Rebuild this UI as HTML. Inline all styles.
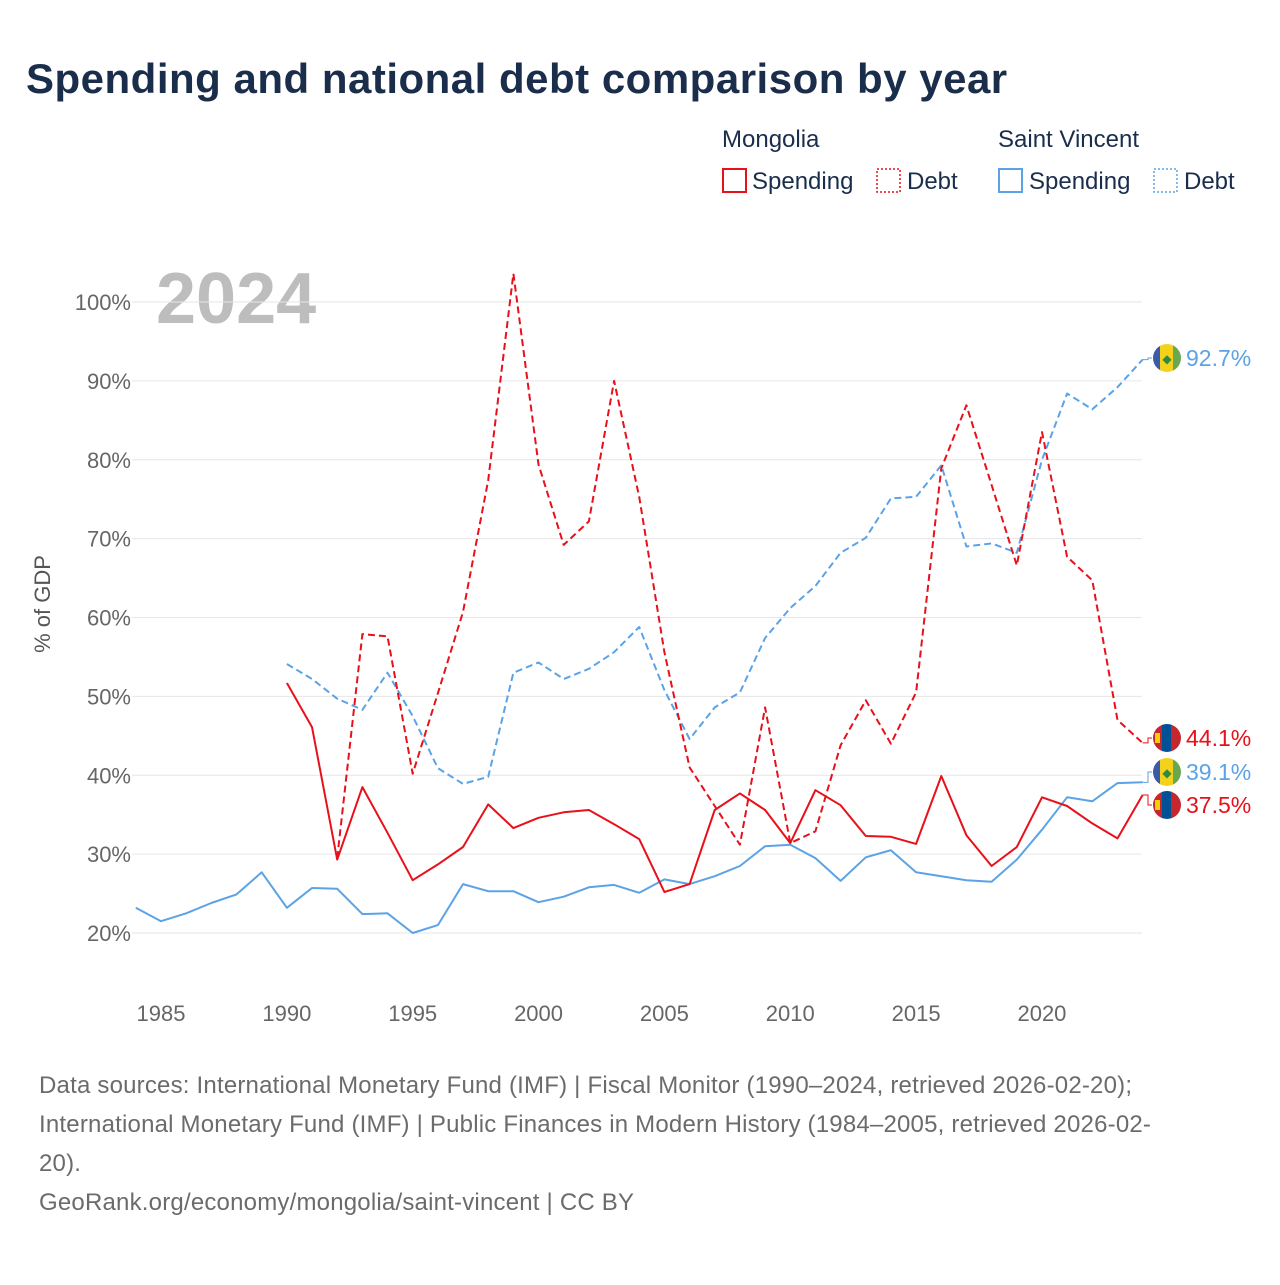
<!DOCTYPE html>
<html><head><meta charset="utf-8">
<style>
body{margin:0;background:#fff;font-family:"Liberation Sans",sans-serif;}
svg text{font-family:"Liberation Sans",sans-serif;}
</style></head>
<body>
<svg id="chart" width="1280" height="1280" xmlns="http://www.w3.org/2000/svg">
<text x="26" y="93" font-size="42" font-weight="bold" fill="#1a2e4c" letter-spacing="0.5">Spending and national debt comparison by year</text>
<g font-size="24" fill="#1a2e4c">
<text x="722" y="147">Mongolia</text>
<rect x="723" y="169" width="23" height="23" fill="none" stroke="#e8101a" stroke-width="2"/>
<text x="752" y="189">Spending</text>
<rect x="877" y="169" width="23" height="23" fill="none" stroke="#e8101a" stroke-width="1.5" stroke-dasharray="2,2"/>
<text x="907" y="189">Debt</text>
<text x="998" y="147">Saint Vincent</text>
<rect x="999" y="169" width="23" height="23" fill="none" stroke="#5ba3e6" stroke-width="2"/>
<text x="1029" y="189">Spending</text>
<rect x="1154" y="169" width="23" height="23" fill="none" stroke="#5ba3e6" stroke-width="1.5" stroke-dasharray="2,2"/>
<text x="1184" y="189">Debt</text>
</g>
<text x="156" y="323" font-size="72" font-weight="bold" fill="#bdbdbd">2024</text>
<text transform="translate(50,604) rotate(-90)" text-anchor="middle" font-size="22" fill="#555">% of GDP</text>
<g id="grid"></g><g id="series"></g><g id="labels"></g>
<g font-size="24" fill="#6b6b6b" letter-spacing="0.2">
<text x="39" y="1093">Data sources: International Monetary Fund (IMF) | Fiscal Monitor (1990–2024, retrieved 2026-02-20);</text>
<text x="39" y="1132">International Monetary Fund (IMF) | Public Finances in Modern History (1984–2005, retrieved 2026-02-</text>
<text x="39" y="1171">20).</text>
<text x="39" y="1210">GeoRank.org/economy/mongolia/saint-vincent | CC BY</text>
</g>
</svg>
<script>
const yTicks=[20,30,40,50,60,70,80,90,100];
const xTicks=[1985,1990,1995,2000,2005,2010,2015,2020];
const mnSpendStart=1990;
const mnSpend=[51.7,46.1,29.3,38.5,32.7,26.7,28.7,30.9,36.3,33.3,34.6,35.3,35.6,33.8,31.9,25.2,26.2,35.6,37.7,35.6,31.4,38.1,36.2,32.3,32.2,31.3,39.9,32.4,28.5,30.9,37.2,36.1,33.9,32.0,37.5];
const mnDebtStart=1992;
const mnDebt=[29.5,57.9,57.6,40.2,50.4,60.7,77.4,103.6,79.4,69.2,72.2,90.0,75.3,55.6,41.0,36.1,31.2,48.6,31.4,32.9,43.8,49.5,44.0,50.5,78.9,86.9,76.8,66.6,83.5,67.7,64.7,47.0,44.1];
const svSpendStart=1984;
const svSpend=[23.2,21.5,22.5,23.8,24.9,27.7,23.2,25.7,25.6,22.4,22.5,20.0,21.0,26.2,25.3,25.3,23.9,24.6,25.8,26.1,25.1,26.8,26.2,27.2,28.5,31.0,31.2,29.5,26.6,29.6,30.5,27.7,27.2,26.7,26.5,29.3,33.1,37.2,36.7,39.0,39.1];
const svDebtStart=1990;
const svDebt=[54.1,52.2,49.7,48.3,53.0,47.5,40.9,38.9,39.8,53.0,54.3,52.2,53.5,55.6,58.8,50.8,44.6,48.6,50.5,57.4,61.2,64.0,68.2,70.1,75.1,75.3,79.3,69.0,69.4,68.2,80.0,88.4,86.4,89.2,92.7];

const NS="http://www.w3.org/2000/svg";
const X=y=>161+(y-1985)*25.17;
const Y=v=>933-(v-20)*7.8875;
function mk(t,a,p){const e=document.createElementNS(NS,t);for(const k in a)e.setAttribute(k,a[k]);p.appendChild(e);return e;}
const grid=document.getElementById('grid');
yTicks.forEach(v=>{
 const l=mk('line',{x1:132,x2:1142,y1:Y(v),y2:Y(v),stroke:'#e6e6e6','stroke-width':1},grid);
 
 
 const t=mk('text',{x:131,y:Y(v)+8,'text-anchor':'end','font-size':22,fill:'#666'},grid);
 t.textContent=v+'%';
 
 
});
xTicks.forEach(yr=>{
 const t=mk('text',{x:X(yr),y:1021,'text-anchor':'middle','font-size':22,fill:'#666'},grid);
 t.textContent=yr;
 
 
});
const ser=document.getElementById('series');
function line(start,vals,color,dash,name){
 const d=vals.map((v,i)=>(i?'L':'M')+X(start+i).toFixed(1)+','+Y(v).toFixed(1)).join(' ');
 const p=mk('path',{d:d,fill:'none',stroke:color,'stroke-width':2,'stroke-dasharray':dash||'none','stroke-linejoin':'round'},ser);
 
 
}
line(svSpendStart,svSpend,'#5ba3e6',null,'line-saint-vincent-spending');
line(svDebtStart,svDebt,'#5ba3e6','7,4','line-saint-vincent-debt');
line(mnSpendStart,mnSpend,'#e8101a',null,'line-mongolia-spending');
line(mnDebtStart,mnDebt,'#e8101a','7,4','line-mongolia-debt');

const lab=document.getElementById('labels');
function endLabel(val,ly,color,flag,name){
 const ex=X(2024),ey=Y(val);
 mk('path',{d:`M${ex},${ey} L1148,${ey} L1148,${ly} L1152,${ly}`,fill:'none',stroke:color,'stroke-width':1},lab);
 const g=mk('g',{},lab);
 
 
 mk('clipPath',{id:'c'+name},g);
 mk('circle',{cx:1167,cy:ly,r:14},g.lastChild);
 const cg=mk('g',{'clip-path':`url(#c${name})`},g);
 if(flag==='mn'){
  mk('rect',{x:1153,y:ly-14,width:10,height:28,fill:'#c4272f'},cg);
  mk('rect',{x:1162,y:ly-14,width:10,height:28,fill:'#015197'},cg);
  mk('rect',{x:1171,y:ly-14,width:10,height:28,fill:'#c4272f'},cg);
  mk('rect',{x:1155,y:ly-5,width:5,height:10,fill:'#f9cf02'},cg);
 } else {
  mk('rect',{x:1153,y:ly-14,width:8,height:28,fill:'#3b5ba9'},cg);
  mk('rect',{x:1160,y:ly-14,width:14,height:28,fill:'#f4d21b'},cg);
  mk('rect',{x:1173,y:ly-14,width:8,height:28,fill:'#6aa84f'},cg);
  mk('text',{x:1167,y:ly+5,'text-anchor':'middle','font-size':12,fill:'#2e8b3e'},cg).textContent='◆';
 }
 const t=mk('text',{x:1186,y:ly+8,'font-size':23,fill:color},lab);
 t.textContent=val.toFixed(1)+'%';
 
 
}
endLabel(svDebt[svDebt.length-1],358,'#5ba3e6','sv','svg-debt');
endLabel(mnDebt[mnDebt.length-1],738,'#e8101a','mn','mn-debt');
endLabel(svSpend[svSpend.length-1],772,'#5ba3e6','sv','svg-spending');
endLabel(mnSpend[mnSpend.length-1],805,'#e8101a','mn','mn-spending');
</script>
</body></html>
